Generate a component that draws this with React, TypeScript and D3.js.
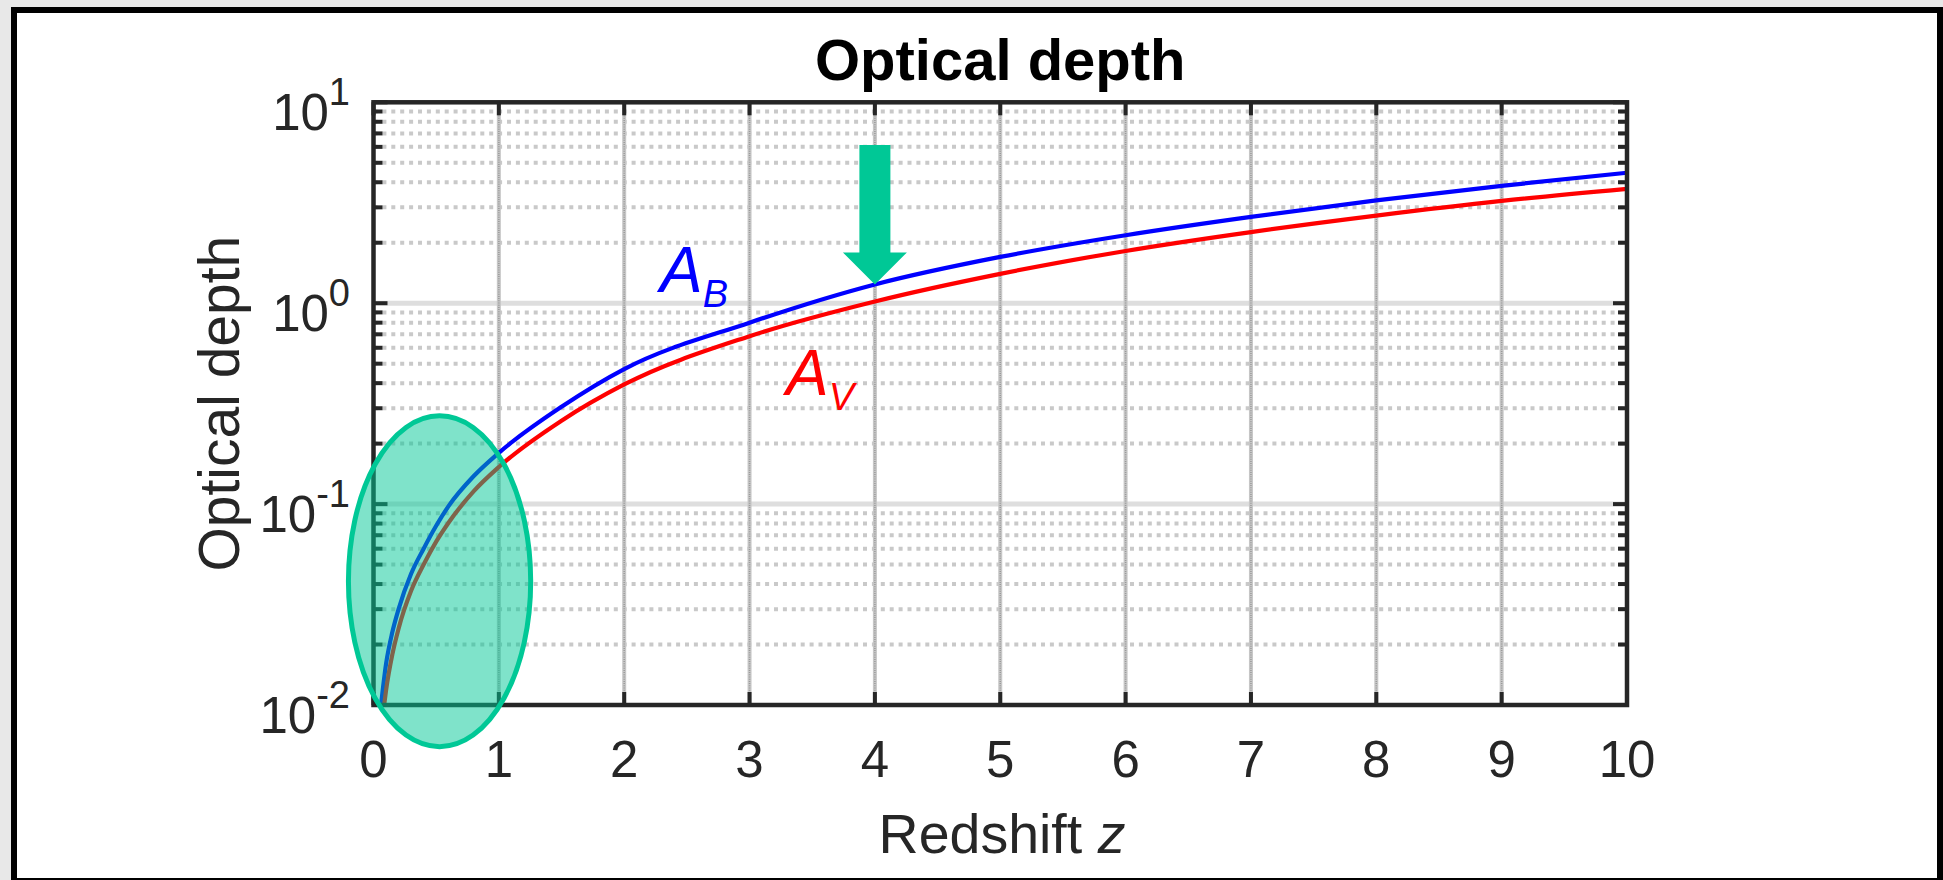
import React from 'react';
import * as d3 from 'd3';

// Canvas
const W = 1943;
const H = 880;

// Axis ticks
const zTicks = [0, 1, 2, 3, 4, 5, 6, 7, 8, 9, 10];
const yExponents = [-2, -1, 0, 1];

// Optical depth in the B band versus redshift
const zB = [0.06, 0.1, 0.15, 0.2, 0.3, 0.4, 0.5, 0.6, 0.8, 1, 1.5, 2, 3, 4, 5, 6, 7, 8, 9, 10];
const tauB = [0.01, 0.016, 0.023, 0.03, 0.045, 0.06, 0.078, 0.098, 0.138, 0.18, 0.305, 0.47, 0.8, 1.24, 1.7, 2.18, 2.69, 3.25, 3.84, 4.46];

// Optical depth in the V band versus redshift
const zV = [0.085, 0.1, 0.15, 0.2, 0.3, 0.4, 0.5, 0.6, 0.8, 1, 1.5, 2, 3, 4, 5, 6, 7, 8, 9, 10];
const tauV = [0.01, 0.0118, 0.0178, 0.024, 0.037, 0.05, 0.065, 0.081, 0.116, 0.153, 0.26, 0.394, 0.685, 1.02, 1.4, 1.82, 2.26, 2.73, 3.23, 3.71];

// Highlighted region (data-space bounding box) and marker position
const regionZ = [-0.2, 1.254];
const regionTau = [0.0062, 0.275];
const markerZ = 4;

const AX = '#262626';
const TEAL = '#00c896';
const FONT = '"Liberation Sans", Arial, Helvetica, sans-serif';

export default function App() {
  const x = d3.scaleLinear().domain([0, 10]).range([373.5, 1627]);
  const y = d3.scaleLog().domain([0.01, 10]).range([705, 102.3]);
  const [x0, x1] = x.range();
  const [yb, yt] = y.range();

  const allY = y.ticks();
  const majorY = allY.filter((v) => Math.abs(Math.log10(v) - Math.round(Math.log10(v))) < 1e-9);
  const minorY = allY.filter((v) => !majorY.includes(v));

  const line = d3
    .line<[number, number]>()
    .x((d) => x(d[0]))
    .y((d) => y(d[1]))
    .curve(d3.curveMonotoneX);

  const pathB = line(zB.map((z, i) => [z, tauB[i]]));
  const pathV = line(zV.map((z, i) => [z, tauV[i]]));

  // ellipse geometry from data-space bounds
  const ex0 = x(regionZ[0]);
  const ex1 = x(regionZ[1]);
  const ey0 = y(regionTau[1]);
  const ey1 = y(regionTau[0]);
  const ecx = (ex0 + ex1) / 2;
  const ecy = (ey0 + ey1) / 2;

  // arrow pointing at the B-band curve at markerZ
  const ax = x(markerZ);
  const tipY = y(tauB[zB.indexOf(markerZ)]);
  const shaftW = 31;
  const headW = 64;
  const headH = 32;
  const shaftTop = 145;
  const arrowPts = [
    [ax - shaftW / 2, shaftTop],
    [ax + shaftW / 2, shaftTop],
    [ax + shaftW / 2, tipY - headH],
    [ax + headW / 2, tipY - headH],
    [ax, tipY],
    [ax - headW / 2, tipY - headH],
    [ax - shaftW / 2, tipY - headH],
  ]
    .map((p) => p.join(','))
    .join(' ');

  const tickW = 4;
  const majLen = 14;
  const minLen = 9;

  return (
    <svg
      width={W}
      height={H}
      style={{ position: 'absolute', left: 0, top: 0, fontFamily: FONT }}
    >
      <rect x={0} y={0} width={W} height={H} fill="#e8e8e8" />
      <rect x={14} y={10} width={1926} height={871} fill="#ffffff" stroke="#000" strokeWidth={6} />

      {/* major horizontal grid */}
      {majorY
        .filter((v) => v > 0.011 && v < 9)
        .map((v) => (
          <line key={'hg' + v} x1={x0} x2={x1} y1={y(v)} y2={y(v)} stroke="#dedede" strokeWidth={5} />
        ))}

      {/* minor horizontal grid */}
      {minorY.map((v) => (
        <line
          key={'mg' + v}
          x1={x0}
          x2={x1}
          y1={y(v)}
          y2={y(v)}
          stroke="#c9c9c9"
          strokeWidth={4}
          strokeDasharray="4 4.9"
        />
      ))}

      {/* vertical grid */}
      {zTicks
        .filter((t) => t > 0 && t < 10)
        .map((t) => (
          <g key={'vg' + t}>
            <line x1={x(t)} x2={x(t)} y1={yt} y2={yb} stroke="#c6c6c6" strokeWidth={4} />
            <line x1={x(t)} x2={x(t)} y1={yt} y2={yb} stroke="#9a9a9a" strokeWidth={1.5} strokeDasharray="1 1.2" />
          </g>
        ))}

      {/* data curves */}
      <path d={pathB ?? ''} fill="none" stroke="#0000ff" strokeWidth={4.2} />
      <path d={pathV ?? ''} fill="none" stroke="#ff0000" strokeWidth={4.2} />

      {/* axis box */}
      <rect x={x0} y={yt} width={x1 - x0} height={yb - yt} fill="none" stroke={AX} strokeWidth={4.5} />

      {/* x ticks, bottom and top */}
      {zTicks.map((t) => (
        <g key={'xt' + t}>
          <line x1={x(t)} x2={x(t)} y1={yb} y2={yb - majLen + 1} stroke={AX} strokeWidth={tickW} />
          <line x1={x(t)} x2={x(t)} y1={yt} y2={yt + majLen - 1} stroke={AX} strokeWidth={tickW} />
        </g>
      ))}

      {/* y ticks, left and right */}
      {allY.map((v) => {
        const len = majorY.includes(v) ? majLen : minLen;
        return (
          <g key={'yt' + v}>
            <line x1={x0} x2={x0 + len} y1={y(v)} y2={y(v)} stroke={AX} strokeWidth={tickW} />
            <line x1={x1} x2={x1 - len} y1={y(v)} y2={y(v)} stroke={AX} strokeWidth={tickW} />
          </g>
        );
      })}

      {/* x tick labels */}
      {zTicks.map((t) => (
        <text key={'xl' + t} x={x(t)} y={777} textAnchor="middle" fontSize={51} fill={AX}>
          {t}
        </text>
      ))}

      {/* y tick labels */}
      {yExponents.map((e) => (
        <text key={'yl' + e} x={350} y={y(Math.pow(10, e)) + 28} textAnchor="end" fontSize={51} fill={AX}>
          <tspan>10</tspan>
          <tspan dy={-25} fontSize={38}>
            {e}
          </tspan>
        </text>
      ))}

      {/* titles */}
      <text x={(x0 + x1) / 2} y={80} textAnchor="middle" fontSize={58} fontWeight="bold" fill="#000">
        Optical depth
      </text>
      <text x={1002} y={853} textAnchor="middle" fontSize={55.5} fill={AX}>
        Redshift <tspan fontStyle="italic">z</tspan>
      </text>
      <text
        transform={`translate(239, ${(yt + yb) / 2}) rotate(-90)`}
        textAnchor="middle"
        fontSize={57}
        fill={AX}
      >
        Optical depth
      </text>

      {/* curve labels */}
      <text x={660} y={292} fontSize={64} fontStyle="italic" fill="#0000ff">
        A
        <tspan dy={15} fontSize={38}>
          B
        </tspan>
      </text>
      <text x={786} y={395} fontSize={64} fontStyle="italic" fill="#ff0000">
        A
        <tspan dy={15} fontSize={38}>
          V
        </tspan>
      </text>

      {/* highlighted low-redshift region */}
      <ellipse
        cx={ecx}
        cy={ecy}
        rx={(ex1 - ex0) / 2}
        ry={(ey1 - ey0) / 2}
        fill={TEAL}
        fillOpacity={0.5}
        stroke={TEAL}
        strokeWidth={5}
      />

      {/* marker arrow */}
      <polygon points={arrowPts} fill={TEAL} />
    </svg>
  );
}
